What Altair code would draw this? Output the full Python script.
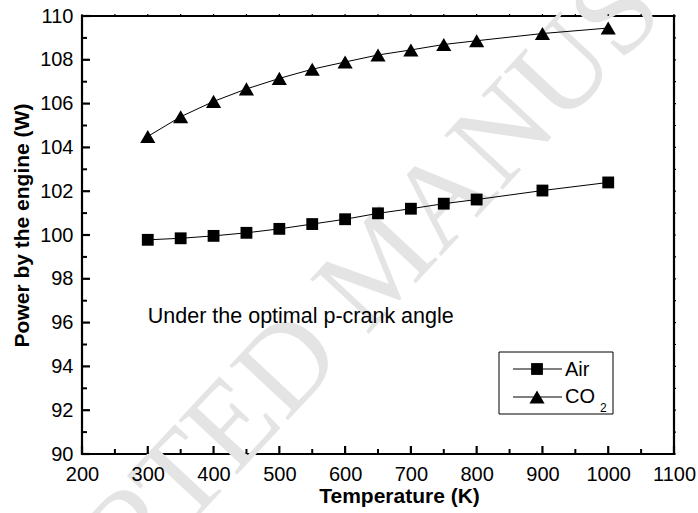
import altair as alt
import pandas as pd

# Engine power output versus heater temperature for two working gases
temperature = [300, 350, 400, 450, 500, 550, 600, 650, 700, 750, 800, 900, 1000]
power_air = [99.78, 99.85, 99.96, 100.1, 100.28, 100.5, 100.72, 100.99, 101.2, 101.43, 101.62, 102.03, 102.4]
power_co2 = [104.5, 105.4, 106.1, 106.67, 107.15, 107.57, 107.9, 108.22, 108.45, 108.7, 108.87, 109.2, 109.45]

x_major = [200, 300, 400, 500, 600, 700, 800, 900, 1000, 1100]
x_minor = [250, 350, 450, 550, 650, 750, 850, 950, 1050]
y_major = [90, 92, 94, 96, 98, 100, 102, 104, 106, 108, 110]
y_minor = [91, 93, 95, 97, 99, 101, 103, 105, 107, 109]

W, H = 592, 438
FONT = "Liberation Sans"
SQ, TRI = 140, 230

air = pd.DataFrame({"T": temperature, "P": power_air})
co2 = pd.DataFrame({"T": temperature, "P": power_co2})

xs = alt.Scale(domain=[200, 1100], nice=False)
ys = alt.Scale(domain=[90, 110], nice=False)

axis_common = dict(
    format="d", ticks=False, tickSize=0, domain=False, grid=False,
    labelFlush=False, labelOverlap=False, zindex=1,
    labelFont=FONT, labelFontSize=20, labelColor="black",
    titleFont=FONT, titleFontSize=21, titleFontWeight="bold", titleColor="black",
    titleBaseline="middle",
)
x_enc = alt.X(
    "T:Q", scale=xs,
    axis=alt.Axis(values=x_major, title="Temperature (K)", labelPadding=10,
                  titleX=317, titleY=42, **axis_common),
)
y_enc = alt.Y(
    "P:Q", scale=ys,
    axis=alt.Axis(values=y_major, title="Power by the engine (W)", labelPadding=9,
                  titleX=-60, titleY=209, **axis_common),
)

# faint diagonal watermark behind the data
watermark = alt.Chart(pd.DataFrame({"w": ["ACCEPTED MANUSCRIPT"]})).mark_text(
    font="Liberation Serif", fontSize=122, angle=313, color="#e4e4e4",
    align="center", baseline="middle",
).encode(text="w:N", x=alt.value(300), y=alt.value(249))

air_line = alt.Chart(air).mark_line(color="black", strokeWidth=1).encode(x=x_enc, y=y_enc)
air_pts = alt.Chart(air).mark_point(
    shape="square", filled=True, color="black", size=SQ, opacity=1
).encode(x="T:Q", y="P:Q")
co2_line = alt.Chart(co2).mark_line(color="black", strokeWidth=1).encode(x="T:Q", y="P:Q")
co2_pts = alt.Chart(co2).mark_point(
    shape="triangle-up", filled=True, color="black", size=TRI, opacity=1
).encode(x="T:Q", y="P:Q")

# inward tick marks on the frame
def xticks(vals, y0, y1, sw):
    return alt.Chart(pd.DataFrame({"T": vals})).mark_rule(color="black", strokeWidth=sw).encode(
        x="T:Q", y=alt.value(y0), y2=alt.value(y1))

def yticks(vals, x0, x1, sw):
    return alt.Chart(pd.DataFrame({"P": vals})).mark_rule(color="black", strokeWidth=sw).encode(
        y="P:Q", x=alt.value(x0), x2=alt.value(x1))

ticks = [
    xticks(x_major, H, H - 8, 2.2),
    xticks(x_minor, H, H - 5, 2),
    yticks(y_major, 0, 8, 2.2),
    yticks(y_minor, 0, 5, 2),
    xticks(x_major + x_minor, 0, -2, 1.2),
    yticks(y_major + y_minor, W, W + 2, 1.2),
]

note = alt.Chart(pd.DataFrame({"T": [300], "P": [96.25], "s": ["Under the optimal p-crank angle"]})).mark_text(
    font=FONT, fontSize=21.5, align="left", baseline="middle", color="black"
).encode(x="T:Q", y="P:Q", text="s:N")

# legend box
leg_box = alt.Chart(pd.DataFrame({"a": [0]})).mark_rect(
    fill="white", stroke="black", strokeWidth=1
).encode(x=alt.value(417), x2=alt.value(531), y=alt.value(336), y2=alt.value(398))
leg_lines = alt.Chart(pd.DataFrame({"r": [353, 381]})).mark_rule(color="black", strokeWidth=1).encode(
    x=alt.value(431), x2=alt.value(480), y=alt.Y("r:Q", scale=None))
leg_sq = alt.Chart(pd.DataFrame({"a": [0]})).mark_point(
    shape="square", filled=True, color="black", size=SQ, opacity=1
).encode(x=alt.value(455), y=alt.value(353))
leg_tri = alt.Chart(pd.DataFrame({"a": [0]})).mark_point(
    shape="triangle-up", filled=True, color="black", size=TRI, opacity=1
).encode(x=alt.value(455), y=alt.value(381))
leg_air = alt.Chart(pd.DataFrame({"s": ["Air"]})).mark_text(
    font=FONT, fontSize=20, align="left", baseline="middle", color="black"
).encode(x=alt.value(483), y=alt.value(354), text="s:N")
leg_co = alt.Chart(pd.DataFrame({"s": ["CO"]})).mark_text(
    font=FONT, fontSize=20, align="left", baseline="middle", color="black"
).encode(x=alt.value(483), y=alt.value(381), text="s:N")
leg_sub = alt.Chart(pd.DataFrame({"s": ["2"]})).mark_text(
    font=FONT, fontSize=12, align="left", baseline="middle", color="black"
).encode(x=alt.value(518), y=alt.value(392), text="s:N")

chart = alt.layer(
    watermark, air_line, *ticks, co2_line, air_pts, co2_pts, note,
    leg_box, leg_lines, leg_sq, leg_tri, leg_air, leg_co, leg_sub,
).properties(
    width=W, height=H,
    autosize=alt.AutoSizeParams(type="none"),
    padding={"left": 82, "top": 16, "right": 24, "bottom": 59},
    background="white",
).configure_view(stroke="black", strokeWidth=2.2)

chart.save("out.html", embed_options={"renderer": "svg", "actions": False})
